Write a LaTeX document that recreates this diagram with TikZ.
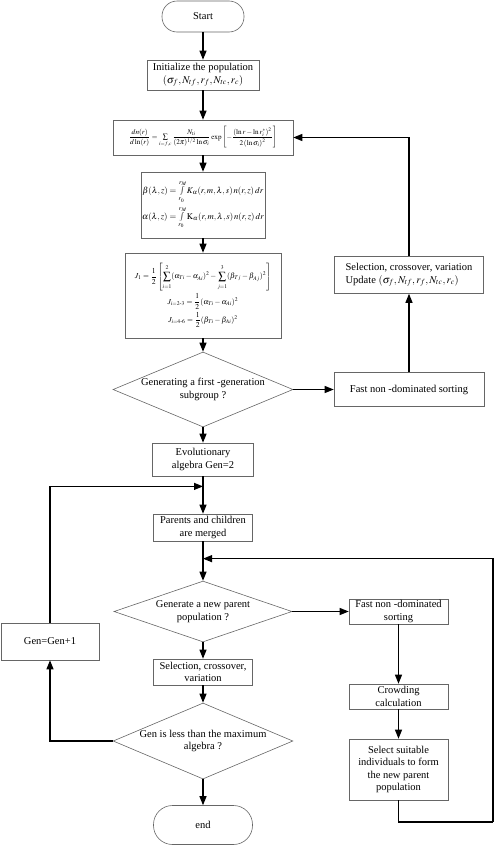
\documentclass[tikz,border=0pt]{standalone}
\usepackage{amsmath}
\usepackage{mathptmx}
\usepackage{fontspec}
\setmainfont{Liberation Serif}
\usetikzlibrary{shapes.geometric,arrows.meta,calc}

\begin{document}
\begin{tikzpicture}[x=1pt, y=1pt, node distance=60pt,
  block/.style={rectangle, draw=black!60, line width=0.6pt, align=center, inner sep=1pt, font=\fontsize{10.5}{12.5}\selectfont},
  term/.style={rectangle, rounded corners=15pt, draw=black!60, line width=0.6pt, font=\fontsize{10.5}{12.5}\selectfont},
  decision/.style={diamond, aspect=2.4, draw=black!60, line width=0.6pt, align=center, inner sep=0pt, font=\fontsize{10.5}{12.5}\selectfont},
  line/.style={draw, line width=1.1pt, -{Triangle[length=9pt,width=7pt]}},
  loop/.style={draw, line width=1.1pt}]

    \useasboundingbox (0,0) rectangle (498,-846);

    % main column
    \node[term, minimum width=82pt, minimum height=31pt] (start) at (203,-16.5) {Start};
    \node[block, below of=start, node distance=58.5pt, minimum width=112pt, minimum height=30pt] (init) {Initialize the population\\$(\sigma_f, N_{tf}, r_f, N_{tc}, r_c)$};
    \node[block, below of=init, node distance=62.5pt, minimum width=180pt, minimum height=35pt, font=\fontsize{7.2}{8}\selectfont] (dist) {$\dfrac{dn(r)}{d\ln(r)}=\sum\limits_{i=f,c}\dfrac{N_{ti}}{(2\pi)^{1/2}\ln\sigma_i}\exp\left[-\dfrac{\left(\ln r-\ln r_i^{*}\right)^2}{2\left(\ln\sigma_i\right)^2}\right]$};
    \node[block, below of=dist, node distance=67.5pt, minimum width=114pt, minimum height=66pt, font=\fontsize{8.7}{10}\selectfont] (coef) {$\beta(\lambda,z)=\int\limits_{r_0}^{r_M}K_\alpha(r,m,\lambda,s)\,n(r,z)\,dr$\\[3pt]$\alpha(\lambda,z)=\int\limits_{r_0}^{r_M}\mathrm{K}_\alpha(r,m,\lambda,s)\,n(r,z)\,dr$};
    \node[block, below of=coef, node distance=90.5pt, minimum width=156pt, minimum height=85pt, font=\fontsize{7.6}{9}\selectfont] (cost) {$\displaystyle J_1=\frac{1}{2}\left[\sum_{\rule{0pt}{6pt}i=1}^{2\rule[-2pt]{0pt}{0pt}}(\alpha_{Ti}-\alpha_{Ai})^2-\sum_{\rule{0pt}{6pt}j=1}^{3\rule[-2pt]{0pt}{0pt}}(\beta_{Tj}-\beta_{Aj})^2\right]$\\[2pt]$J_{i=2\text{-}3}=\dfrac{1}{2}(\alpha_{Ti}-\alpha_{Ai})^2$\\[2pt]$J_{i=4\text{-}6}=\dfrac{1}{2}(\beta_{Ti}-\beta_{Ai})^2$};
    \node[decision, below of=cost, node distance=94pt, minimum width=180pt, minimum height=75pt] (first) {Generating a first -generation\\subgroup ?};
    \node[block, below of=first, node distance=70pt, minimum width=101pt, minimum height=33pt] (evol) {Evolutionary\\algebra Gen=2};
    \node[block, below of=evol, node distance=68pt, minimum width=99pt, minimum height=27pt] (merge) {Parents and children\\are merged};
    \node[decision, below of=merge, node distance=84pt, minimum width=178pt, minimum height=59pt] (newpar) {Generate a new parent\\population ?};
    \node[block, below of=newpar, node distance=60.5pt, minimum width=99pt, minimum height=26pt] (selcv) {Selection, crossover,\\variation};
    \node[decision, below of=selcv, node distance=69pt, minimum width=179pt, minimum height=76pt] (genmax) {Gen is less than the maximum\\algebra ?};
    \node[term, below of=genmax, node distance=84pt, minimum width=99pt, minimum height=39pt, rounded corners=19pt] (end) {end};

    % right column
    \node[block, right of=first, node distance=206pt, minimum width=150pt, minimum height=34pt] (sort1) {Fast non -dominated sorting};
    \node[block, above of=sort1, node distance=114.5pt, minimum width=149pt, minimum height=37pt, align=left] (update) {Selection, crossover, variation\\Update $(\sigma_f, N_{tf}, r_f, N_{tc}, r_c)$};
    \node[block, right of=newpar, node distance=195.5pt, minimum width=99pt, minimum height=25pt] (sort2) {Fast non -dominated\\sorting};
    \node[block, below of=sort2, node distance=85pt, minimum width=99pt, minimum height=25pt] (crowd) {Crowding\\calculation};
    \node[block, below of=crowd, node distance=73pt, minimum width=99pt, minimum height=61pt] (pick) {Select suitable\\individuals to form\\the new parent\\population};

    % left column
    \node[block, left of=newpar, node distance=153pt, yshift=-30pt, minimum width=98pt, minimum height=37pt] (gen) {Gen=Gen+1};

    \coordinate (join1) at ($(evol.south)!0.27!(merge.north)$);
    \coordinate (join2) at ($(merge.south)!0.44!(newpar.north)$);
    \coordinate (rcorner) at (493,-822);

    \draw[line] (start) -- (init);
    \draw[line] (init) -- (dist);
    \draw[line] (dist) -- (coef);
    \draw[line] (coef) -- (cost);
    \draw[line] (cost) -- (first);
    \draw[line] (first) -- (sort1);
    \draw[line] (sort1) -- (update);
    \draw[line] (update.north) |- (dist.east);
    \draw[line] (first) -- (evol);
    \draw[line] (evol) -- (merge);
    \draw[line] (merge) -- (newpar);
    \draw[line] (newpar) -- (sort2);
    \draw[line] (sort2) -- (crowd);
    \draw[line] (crowd) -- (pick);
    \draw[loop] (pick.south) |- (rcorner);
    \draw[line] (rcorner) |- (join2);
    \draw[line] (newpar) -- (selcv);
    \draw[line] (selcv) -- (genmax);
    \draw[line] (genmax) -- (end);
    \draw[line] (genmax.west) -| (gen.south);
    \draw[line] (gen.north) |- (join1);

  \end{tikzpicture}
\end{document}
